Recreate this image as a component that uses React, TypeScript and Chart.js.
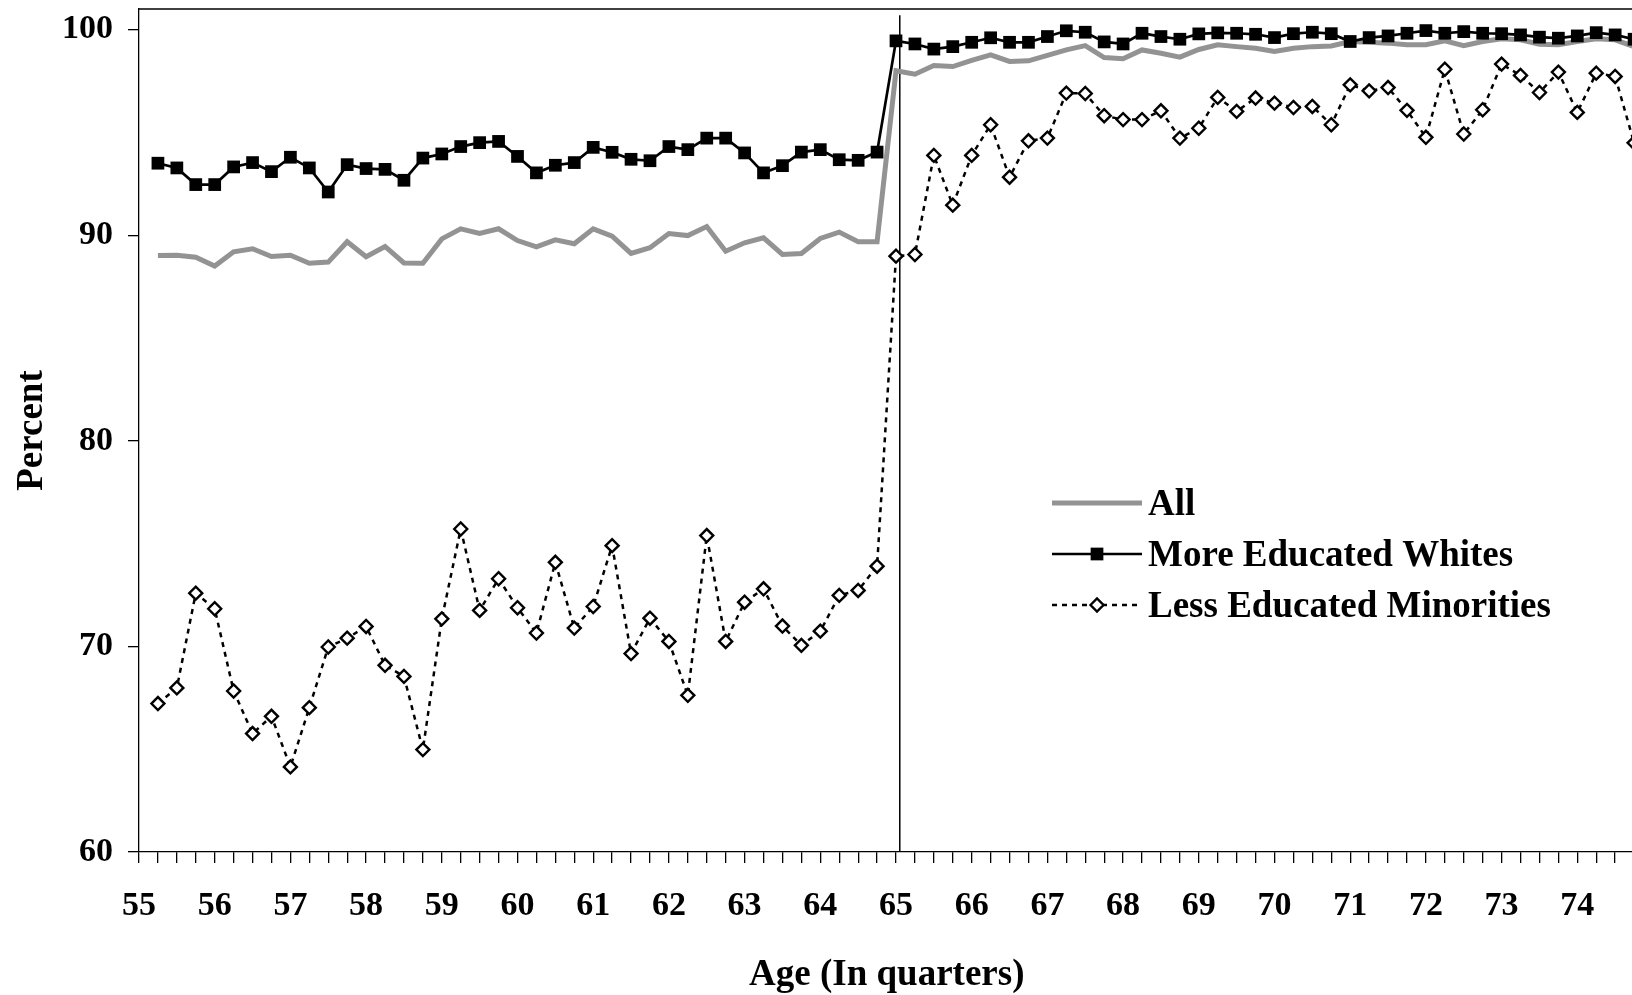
import React, { useRef, useEffect } from 'react';
import Chart from 'chart.js/auto';

// age in quarters (x values of the points)
const ageQuarters = [
    55.25, 55.5, 55.75, 56, 56.25, 56.5, 56.75, 57, 57.25, 57.5, 57.75, 58,
    58.25, 58.5, 58.75, 59, 59.25, 59.5, 59.75, 60, 60.25, 60.5, 60.75, 61,
    61.25, 61.5, 61.75, 62, 62.25, 62.5, 62.75, 63, 63.25, 63.5, 63.75, 64,
    64.25, 64.5, 64.75, 65, 65.25, 65.5, 65.75, 66, 66.25, 66.5, 66.75, 67,
    67.25, 67.5, 67.75, 68, 68.25, 68.5, 68.75, 69, 69.25, 69.5, 69.75, 70,
    70.25, 70.5, 70.75, 71, 71.25, 71.5, 71.75, 72, 72.25, 72.5, 72.75, 73,
    73.25, 73.5, 73.75, 74, 74.25, 74.5, 74.75
];

const allPeople = [
    89.01, 89.02, 88.93, 88.5, 89.19, 89.34, 88.96, 89.02, 88.63, 88.69, 89.68, 88.95, 89.45, 88.65, 88.63, 89.82, 90.31, 90.08, 90.31, 89.74,
    89.43, 89.77, 89.58, 90.31, 89.95, 89.11, 89.39, 90.08, 89.98, 90.42, 89.22, 89.63, 89.87, 89.06, 89.11, 89.84, 90.15, 89.68, 89.68,
    98.0, 97.83, 98.25, 98.2, 98.5, 98.77, 98.45, 98.48, 98.74, 99.01, 99.22, 98.64, 98.58, 99.01, 98.85, 98.66, 99.03, 99.26, 99.17,
    99.09, 98.93, 99.09, 99.17, 99.2, 99.42, 99.38, 99.34, 99.26, 99.26, 99.45, 99.22, 99.42, 99.55, 99.5, 99.29, 99.26, 99.42, 99.55, 99.5, 99.17
];

const moreEducatedWhites = [
    93.5, 93.27, 92.46, 92.46, 93.32, 93.53, 93.09, 93.79, 93.27, 92.1, 93.43, 93.24, 93.2, 92.67, 93.75, 93.95, 94.31, 94.5, 94.56, 93.83,
    93.03, 93.4, 93.53, 94.27, 94.03, 93.69, 93.62, 94.31, 94.16, 94.72, 94.72, 94.0, 93.03, 93.38, 94.04, 94.16, 93.67, 93.64, 94.04,
    99.45, 99.3, 99.05, 99.17, 99.38, 99.6, 99.38, 99.38, 99.66, 99.94, 99.87, 99.4, 99.3, 99.82, 99.66, 99.53, 99.79, 99.84, 99.82,
    99.77, 99.61, 99.8, 99.87, 99.8, 99.42, 99.61, 99.69, 99.82, 99.95, 99.82, 99.9, 99.82, 99.8, 99.74, 99.63, 99.58, 99.69, 99.85, 99.74, 99.53
];

const lessEducatedMinorities = [
    67.22, 67.98, 72.59, 71.83, 67.83, 65.76, 66.6, 64.14, 67.02, 69.97, 70.4, 70.97, 69.08, 68.54, 64.98, 71.34, 75.71, 71.75, 73.29, 71.88,
    70.65, 74.09, 70.89, 71.94, 74.9, 69.65, 71.37, 70.24, 67.62, 75.39, 70.24, 72.15, 72.8, 70.99, 70.05, 70.74, 72.48, 72.72, 73.9,
    88.98, 89.06, 93.88, 91.46, 93.88, 95.37, 92.82, 94.59, 94.72, 96.91, 96.89, 95.81, 95.62, 95.62, 96.05, 94.72, 95.2, 96.7, 96.02,
    96.67, 96.42, 96.21, 96.26, 95.37, 97.31, 97.02, 97.18, 96.07, 94.76, 98.07, 94.92, 96.1, 98.32, 97.77, 96.94, 97.93, 95.97, 97.88, 97.72, 94.49
];

const yearTicks = [55, 56, 57, 58, 59, 60, 61, 62, 63, 64, 65, 66, 67, 68, 69, 70, 71, 72, 73, 74, 75];
const percentTicks = [60, 70, 80, 90, 100];
const cutoffAge = 65.05;

const FONT = '"Liberation Serif", "Times New Roman", serif';

const framePlugin = {
    id: 'frame',
    beforeDatasetsDraw(chart: any) {
        const { ctx, chartArea, scales } = chart;
        const x = scales.x.getPixelForValue(cutoffAge);
        ctx.save();
        ctx.strokeStyle = '#000';
        ctx.lineWidth = 1.5;
        ctx.beginPath();
        ctx.moveTo(x, scales.y.getPixelForValue(100.7));
        ctx.lineTo(x, chartArea.bottom);
        ctx.stroke();
        ctx.restore();
    },
    afterDraw(chart: any) {
        const { ctx, chartArea } = chart;
        ctx.save();
        ctx.strokeStyle = '#000';
        ctx.lineWidth = 1.3;
        ctx.beginPath();
        ctx.moveTo(chartArea.left, chartArea.top);
        ctx.lineTo(chartArea.right, chartArea.top);
        ctx.stroke();
        ctx.restore();
    }
};

const legendPlugin = {
    id: 'insideLegend',
    afterDraw(chart: any) {
        const { ctx, chartArea } = chart;
        const x0 = chartArea.left + 913;
        const x1 = x0 + 90;
        const cx = (x0 + x1) / 2;
        ctx.save();
        chart.data.datasets.forEach((ds: any, i: number) => {
            const y = chartArea.top + 494 + i * 51;
            ctx.beginPath();
            ctx.setLineDash(ds.borderDash || []);
            ctx.lineWidth = ds.borderWidth;
            ctx.strokeStyle = ds.borderColor;
            ctx.moveTo(x0, y);
            ctx.lineTo(x1, y);
            ctx.stroke();
            ctx.setLineDash([]);
            if (ds.pointStyle === 'rect') {
                const s = ds.pointRadius * Math.SQRT1_2;
                ctx.fillStyle = ds.pointBackgroundColor;
                ctx.fillRect(cx - s, y - s, 2 * s, 2 * s);
            } else if (ds.pointStyle === 'rectRot') {
                const r = ds.pointRadius;
                ctx.beginPath();
                ctx.moveTo(cx - r, y);
                ctx.lineTo(cx, y - r);
                ctx.lineTo(cx + r, y);
                ctx.lineTo(cx, y + r);
                ctx.closePath();
                ctx.fillStyle = ds.pointBackgroundColor;
                ctx.fill();
                ctx.lineWidth = ds.pointBorderWidth;
                ctx.strokeStyle = ds.pointBorderColor;
                ctx.stroke();
            }
            ctx.fillStyle = '#000';
            ctx.font = `bold 37px ${FONT}`;
            ctx.textBaseline = 'middle';
            ctx.textAlign = 'left';
            ctx.fillText(ds.label, x1 + 6, y + 2);
        });
        ctx.restore();
    }
};

const AgeChart: React.FC = () => {
    const chartRef = useRef<HTMLCanvasElement>(null);

    useEffect(() => {
        let chartInstance: Chart | undefined;
        if (chartRef.current) {
            const ctx = chartRef.current.getContext('2d');
            if (ctx) {
                const toPoints = (values: number[]) => ageQuarters.map((x, i) => ({ x, y: values[i] }));
                const quarterTicks = yearTicks.flatMap((y) => (y < 75 ? [y, y + 0.25, y + 0.5, y + 0.75] : [y]));

                chartInstance = new Chart(ctx, {
                    type: 'line',
                    data: {
                        datasets: [
                            {
                                label: 'All',
                                data: toPoints(allPeople),
                                borderColor: '#939393',
                                borderWidth: 5,
                                pointRadius: 0,
                                tension: 0,
                                order: 3
                            },
                            {
                                label: 'More Educated Whites',
                                data: toPoints(moreEducatedWhites),
                                borderColor: '#000',
                                borderWidth: 2.7,
                                pointStyle: 'rect',
                                pointRadius: 9,
                                pointBackgroundColor: '#000',
                                pointBorderColor: '#000',
                                pointBorderWidth: 0,
                                tension: 0,
                                order: 2
                            },
                            {
                                label: 'Less Educated Minorities',
                                data: toPoints(lessEducatedMinorities),
                                borderColor: '#000',
                                borderWidth: 2.5,
                                borderDash: [5, 5],
                                pointStyle: 'rectRot',
                                pointRadius: 6.5,
                                pointBackgroundColor: '#fff',
                                pointBorderColor: '#000',
                                pointBorderWidth: 2.4,
                                tension: 0,
                                order: 1
                            }
                        ]
                    },
                    options: {
                        responsive: false,
                        animation: false,
                        devicePixelRatio: 1,
                        layout: { padding: { left: 0, top: 7, right: 47, bottom: 0 } },
                        plugins: {
                            legend: { display: false },
                            tooltip: { enabled: false }
                        },
                        scales: {
                            x: {
                                type: 'linear',
                                min: 55,
                                max: 75,
                                afterBuildTicks: (scale: any) => {
                                    scale.ticks = quarterTicks.map((v) => ({ value: v }));
                                },
                                afterFit: (scale: any) => {
                                    scale.height = 143;
                                },
                                ticks: {
                                    autoSkip: false,
                                    maxRotation: 0,
                                    padding: 23,
                                    color: '#000',
                                    font: { family: FONT, size: 34, weight: 'bold' },
                                    callback: (v: any) => (Number.isInteger(v) ? String(v) : '')
                                },
                                grid: { drawOnChartArea: false, tickLength: 11, color: '#000', lineWidth: 1.3 },
                                border: { color: '#000', width: 1.3 },
                                title: {
                                    display: true,
                                    text: 'Age (In quarters)\u2002',
                                    color: '#000',
                                    font: { family: FONT, size: 37, weight: 'bold' },
                                    padding: { top: 0, bottom: -3 }
                                }
                            },
                            y: {
                                min: 60,
                                max: 101,
                                afterBuildTicks: (scale: any) => {
                                    scale.ticks = percentTicks.map((v) => ({ value: v }));
                                },
                                afterFit: (scale: any) => {
                                    scale.width = 139;
                                    scale.paddingTop = 0;
                                    scale.paddingBottom = 0;
                                },
                                ticks: {
                                    padding: 15,
                                    color: '#000',
                                    font: { family: FONT, size: 34, weight: 'bold' }
                                },
                                grid: { drawOnChartArea: false, tickLength: 11, color: '#000', lineWidth: 1.3 },
                                border: { color: '#000', width: 1.3 },
                                title: {
                                    display: true,
                                    text: 'Percent',
                                    color: '#000',
                                    font: { family: FONT, size: 37, weight: 'bold' },
                                    padding: { top: 10, bottom: 0 }
                                }
                            }
                        }
                    },
                    plugins: [framePlugin, legendPlugin]
                });
            }
        }

        return () => {
            if (chartInstance) {
                chartInstance.destroy();
            }
        };
    }, []);

    return (
        <div style={{ position: 'absolute', left: 0, top: 0, width: 1632, height: 995, overflow: 'hidden', background: '#fff' }}>
            <canvas ref={chartRef} width={1700} height={995} style={{ display: 'block' }}></canvas>
        </div>
    );
};

export default function App() {
    return <AgeChart />;
}
